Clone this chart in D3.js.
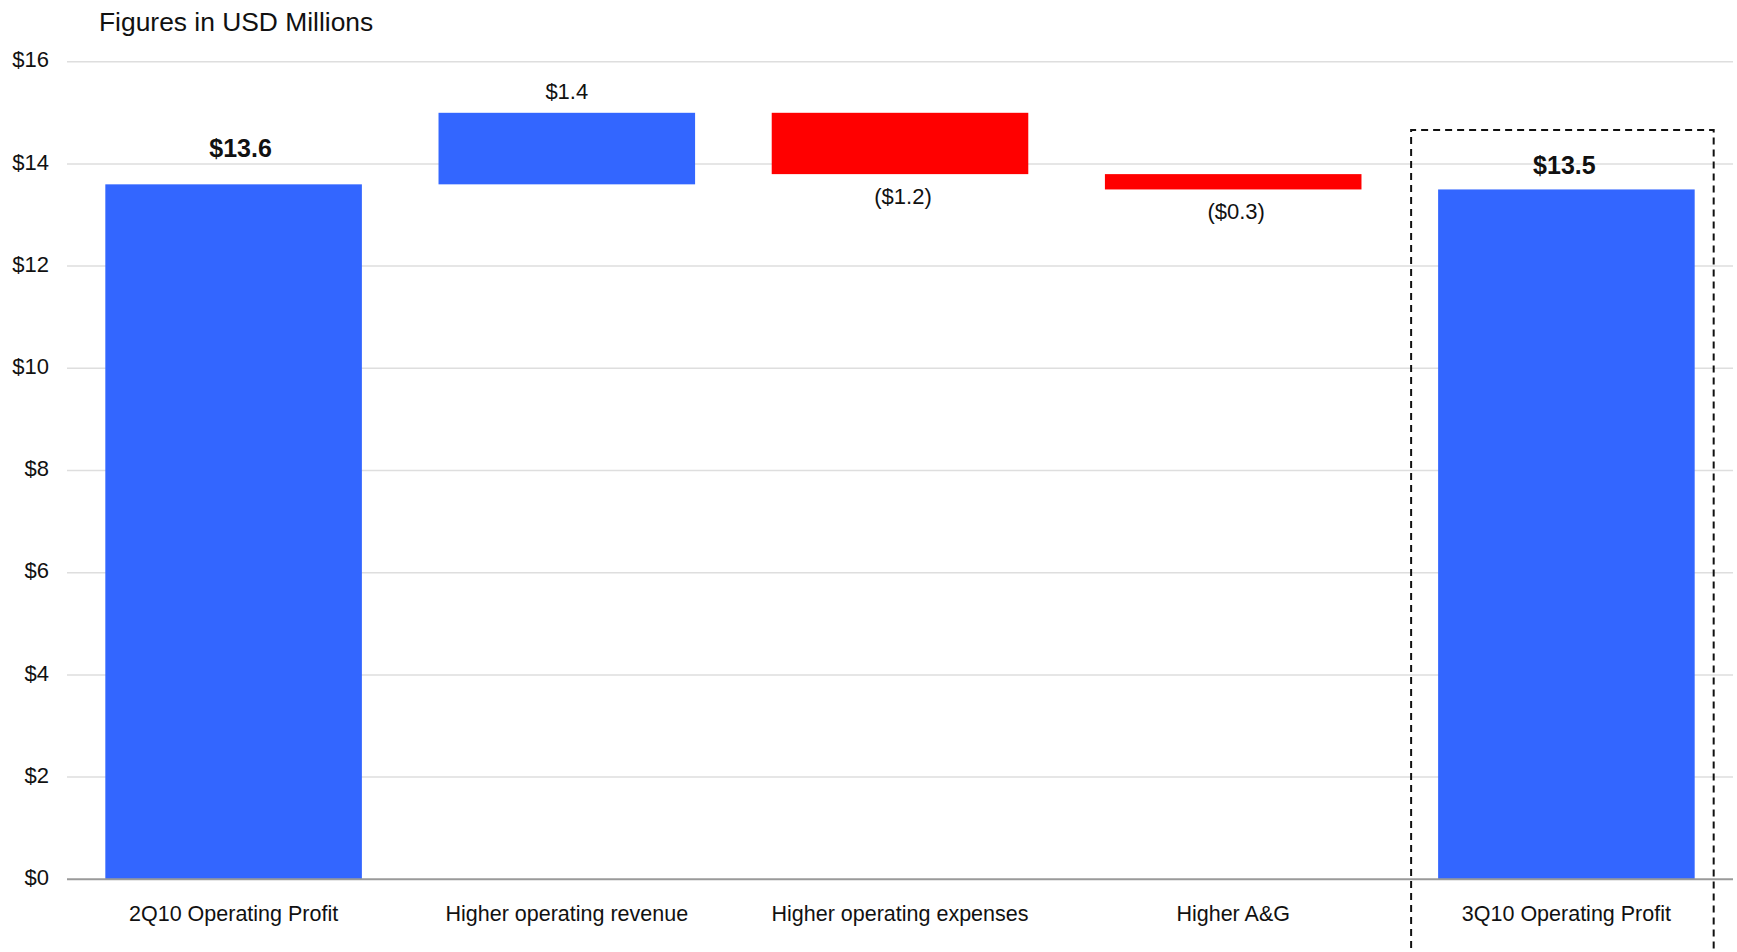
<!DOCTYPE html>
<html>
<head>
<meta charset="utf-8">
<script src="https://cdn.jsdelivr.net/npm/d3@7"></script>
<style>
  html, body { margin: 0; padding: 0; background: #fff; }
  svg { display: block; font-family: "Liberation Sans", Arial, sans-serif; }
</style>
</head>
<body>
<svg id="chart" width="1737" height="952"></svg>
<script>
// ---- data ----
const categories = ["2Q10 Operating Profit", "Higher operating revenue", "Higher operating expenses", "Higher A&G", "3Q10 Operating Profit"];
const changes = [13.6, 1.4, -1.2, -0.3, 13.5];
const kinds = ["total", "delta", "delta", "delta", "total"];
const valueLabels = ["$13.6", "$1.4", "($1.2)", "($0.3)", "$13.5"];
const yTicks = [0, 2, 4, 6, 8, 10, 12, 14, 16];
const yTickLabels = ["$0", "$2", "$4", "$6", "$8", "$10", "$12", "$14", "$16"];
const chartTitle = "Figures in USD Millions";

(function () {
// ---- build waterfall ----
let running = 0;
const bars = categories.map((c, i) => {
  let lo, hi;
  if (kinds[i] === "total") { lo = 0; hi = changes[i]; running = changes[i]; }
  else { const start = running; running += changes[i]; lo = Math.min(start, running); hi = Math.max(start, running); }
  return { cat: c, lo, hi, v: changes[i], kind: kinds[i], label: valueLabels[i], i };
});

const svg = d3.select("#chart");
const pLeft = 67, pRight = 1733, pTop = 61.7, pBottom = 879.3;

const x = d3.scaleBand().domain(categories).range([pLeft, pRight]).paddingInner(0.23).paddingOuter(0.115);
const y = d3.scaleLinear().domain([0, 16]).range([pBottom, pTop]);

// gridlines
svg.append("g").selectAll("line").data(yTicks.filter(d => d !== 0)).join("line")
  .attr("x1", pLeft).attr("x2", pRight)
  .attr("y1", d => y(d)).attr("y2", d => y(d))
  .attr("stroke", "#dedede").attr("stroke-width", 1.5);

// y tick labels
svg.append("g").selectAll("text").data(yTicks).join("text")
  .attr("x", 49).attr("y", d => y(d)).attr("dy", "0.26em")
  .attr("text-anchor", "end").attr("font-size", 22).attr("fill", "#111")
  .text((d, i) => yTickLabels[i]);

// bars
svg.append("g").selectAll("rect").data(bars).join("rect")
  .attr("x", d => x(d.cat)).attr("width", x.bandwidth())
  .attr("y", d => y(d.hi)).attr("height", d => y(d.lo) - y(d.hi))
  .attr("fill", d => d.v >= 0 ? "#3366ff" : "#ff0000");

// baseline axis
svg.append("line").attr("x1", pLeft).attr("x2", pRight)
  .attr("y1", y(0)).attr("y2", y(0))
  .attr("stroke", "#9a9a9a").attr("stroke-width", 2);

// value labels
svg.append("g").selectAll("text").data(bars).join("text")
  .attr("x", d => x(d.cat) + x.bandwidth() / 2 + (d.i === 0 ? 7 : (d.kind === "total" ? -2 : (d.v < 0 ? 3 : 0))))
  .attr("y", d => {
    if (d.kind === "total") return y(d.hi) - (d.i === 0 ? 27 : 15);
    if (d.v >= 0) return y(d.hi) - 14;
    return y(d.lo) + 30;
  })
  .attr("text-anchor", "middle")
  .attr("font-size", d => d.kind === "total" ? 25 : 22)
  .attr("font-weight", d => d.kind === "total" ? "bold" : "normal")
  .attr("fill", "#111")
  .text(d => d.label);

// category labels
svg.append("g").selectAll("text").data(categories).join("text")
  .attr("x", d => x(d) + x.bandwidth() / 2)
  .attr("y", pBottom + 42)
  .attr("text-anchor", "middle").attr("font-size", 21.5).attr("fill", "#111")
  .text(d => d);

// dashed highlight box around last category
const last = categories[categories.length - 1];
const bx0 = x(last) - 27, bx1 = x(last) + x.bandwidth() + 19;
svg.append("path")
  .attr("d", `M${bx0},960 L${bx0},130 L${bx1},130 L${bx1},960`)
  .attr("fill", "none").attr("stroke", "#111").attr("stroke-width", 2)
  .attr("stroke-dasharray", "7,5");

// title
svg.append("text").attr("x", 99).attr("y", 30.5)
  .attr("font-size", 26.4).attr("fill", "#111").text(chartTitle);
})();
</script>
</body>
</html>
